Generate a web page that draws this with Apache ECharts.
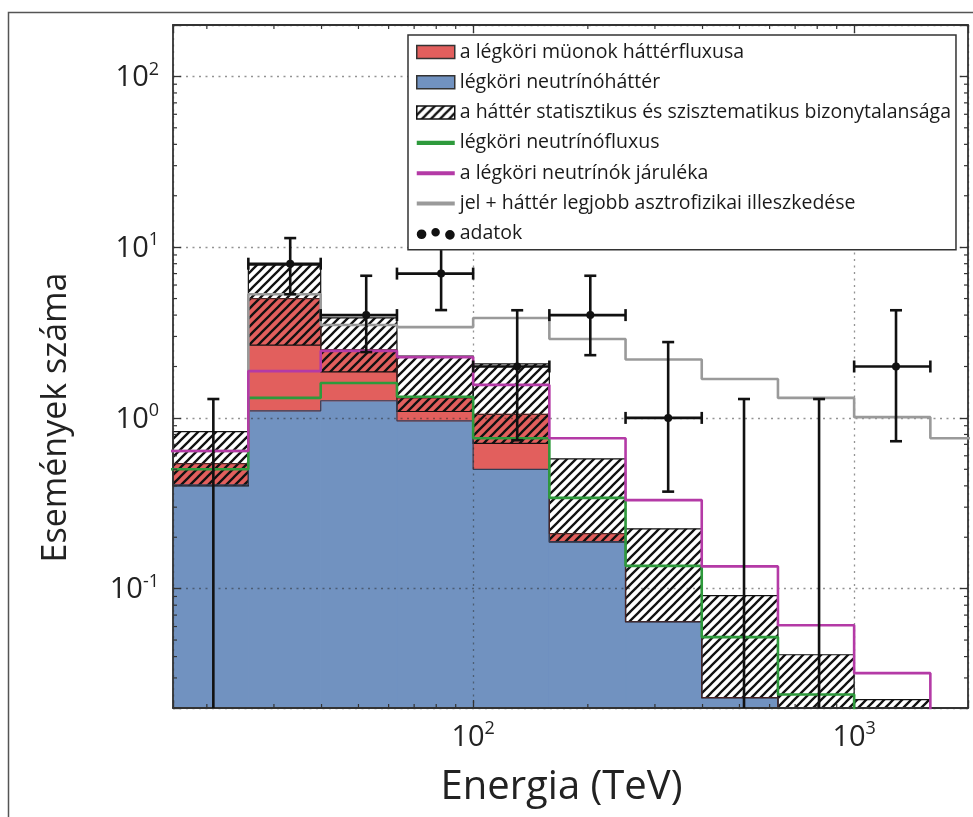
<!DOCTYPE html>
<html>
<head>
    <meta charset="utf-8">
    <title>Események száma - Energia (TeV)</title>
    <script src="https://cdn.jsdelivr.net/npm/echarts@6/dist/echarts.min.js"></script>
    <style>html, body { margin: 0; padding: 0; background: #fff; }</style>
</head>
<body>
    <div id="main" style="width:973px;height:817px;"></div>
    <script type="text/javascript">

        // bin edges (TeV), 11 bins
        var binEdges   = [15.85, 25.7, 39.8, 63.1, 100, 158.5, 251.2, 398.1, 631, 1000, 1585, 2512];
        // histogram values per bin (events)
        var neutrinoBg = [0.405, 1.1, 1.26, 0.96, 0.50, 0.188, 0.064, 0.023, 0.012, 0.008, 0.005];
        var muonTop    = [0.54, 5.0, 2.5, 1.31, 1.05, 0.21, 0.064, 0.023, 0.012, 0.008, 0.005];
        var bandLow    = [0.40, 2.67, 1.86, 1.09, 0.71, 0.188, 0.064, 0.023, 0.01, 0.01, null];
        var bandHigh   = [0.83, 7.85, 3.85, 2.3, 2.07, 0.575, 0.224, 0.091, 0.041, 0.0224, null];
        var nuFlux     = [0.50, 1.31, 1.6, 1.33, 0.76, 0.34, 0.136, 0.052, 0.024, 0.013, 0.008];
        var nuContrib  = [0.64, 1.88, 2.47, 2.27, 1.56, 0.76, 0.33, 0.135, 0.061, 0.032, 0.012];
        var bestFit    = [0.64, 5.3, 3.5, 3.4, 3.85, 2.9, 2.2, 1.69, 1.31, 1.01, 0.76];
        // measured events
        var dataX    = [20.8, 33.1, 52.4, 82.4, 130.5, 203, 325, 514, 809, 1288];
        var dataN    = [0, 8, 4, 7, 2, 4, 1, 0, 0, 2];
        var errLow   = [0, 5.3, 2.43, 4.28, 0.74, 2.33, 0.37, 0, 0, 0.73];
        var errHigh  = [1.29, 11.3, 6.8, 10.4, 4.27, 6.8, 2.78, 1.29, 1.29, 4.27];
        // minor tick positions
        var xMinor = [20, 30, 40, 50, 60, 70, 80, 90, 200, 300, 400, 500, 600, 700, 800, 900];
        var yMinor = [0.03, 0.04, 0.05, 0.06, 0.07, 0.08, 0.09, 0.2, 0.3, 0.4, 0.5, 0.6, 0.7, 0.8, 0.9,
                      2, 3, 4, 5, 6, 7, 8, 9, 20, 30, 40, 50, 60, 70, 80, 90];

        var X_MIN = 16.3, X_MAX = 1990, Y_MIN = 0.02, Y_MAX = 200;
        var RED = '#e25f5d', BLUE = '#7192c0', GREEN = '#2e9a3c', MAGENTA = '#b43aa6', GRAY = '#9a9a9a';
        var FONT = 'Open Sans';

        var names = {
            muon: 'a légköri müonok háttérfluxusa',
            nubg: 'légköri neutrínóháttér',
            band: 'a háttér statisztikus és szisztematikus bizonytalansága',
            flux: 'légköri neutrínófluxus',
            contrib: 'a légköri neutrínók járuléka',
            fit: 'jel + háttér legjobb asztrofizikai illeszkedése',
            data: 'adatok'
        };

        function hatchCanvas() {
            var s = 9, c = document.createElement('canvas');
            c.width = s; c.height = s;
            var g = c.getContext('2d');
            g.strokeStyle = '#111';
            g.lineWidth = 2.3;
            g.beginPath();
            g.moveTo(-1, s + 1); g.lineTo(s + 1, -1);
            g.moveTo(-s / 2 - 1, s / 2 + 1); g.lineTo(s / 2 + 1, -s / 2 - 1);
            g.moveTo(s / 2 - 1, s * 1.5 + 1); g.lineTo(s * 1.5 + 1, s / 2 - 1);
            g.stroke();
            return c;
        }
        var hatch = { image: hatchCanvas(), repeat: 'repeat' };

        function clip(r, cs) {
            var x0 = Math.max(r.x, cs.x), y0 = Math.max(r.y, cs.y);
            var x1 = Math.min(r.x + r.width, cs.x + cs.width), y1 = Math.min(r.y + r.height, cs.y + cs.height);
            if (x1 <= x0 || y1 <= y0) return null;
            return { x: x0, y: y0, width: x1 - x0, height: y1 - y0 };
        }

        function binRects(fill, stroke, width) {
            return function (params, api) {
                var lo = api.value(2), hi = api.value(3);
                if (!(hi > lo)) return;
                var p0 = api.coord([api.value(0), hi]);
                var p1 = api.coord([api.value(1), lo]);
                var r = clip({ x: p0[0], y: p0[1], width: p1[0] - p0[0], height: p1[1] - p0[1] }, params.coordSys);
                if (!r) return;
                return { type: 'rect', shape: r, style: { fill: fill, stroke: stroke, lineWidth: width } };
            };
        }

        function binData(lo, hi) {
            var out = [];
            for (var i = 0; i < hi.length; i++) {
                if (hi[i] == null) continue;
                out.push([binEdges[i], binEdges[i + 1], typeof lo === 'number' ? lo : lo[i], hi[i]]);
            }
            return out;
        }

        function stepData(vals) {
            return binEdges.map(function (e, i) {
                return [e, vals[Math.min(i, vals.length - 1)]];
            });
        }

        function renderPoint(params, api) {
            var cs = params.coordSys;
            var xc = api.value(0), n = api.value(1), lo = api.value(2), hi = api.value(3);
            var st = { stroke: '#111', lineWidth: 2.6 };
            var top = api.coord([xc, hi]);
            var bottom = n > 0 ? api.coord([xc, lo])[1] : cs.y + cs.height;
            var ch = [
                { type: 'line', shape: { x1: top[0], y1: top[1], x2: top[0], y2: bottom }, style: st },
                { type: 'line', shape: { x1: top[0] - 6, y1: top[1], x2: top[0] + 6, y2: top[1] }, style: st }
            ];
            if (n > 0) {
                var c = api.coord([xc, n]);
                var l = api.coord([api.value(4), n]);
                var r = api.coord([api.value(5), n]);
                ch.push({ type: 'line', shape: { x1: top[0] - 6, y1: bottom, x2: top[0] + 6, y2: bottom }, style: st });
                ch.push({ type: 'line', shape: { x1: l[0], y1: c[1], x2: r[0], y2: c[1] }, style: st });
                ch.push({ type: 'line', shape: { x1: l[0], y1: c[1] - 6, x2: l[0], y2: c[1] + 6 }, style: st });
                ch.push({ type: 'line', shape: { x1: r[0], y1: c[1] - 6, x2: r[0], y2: c[1] + 6 }, style: st });
                ch.push({ type: 'circle', shape: { cx: c[0], cy: c[1], r: 4 }, style: { fill: '#111' } });
            }
            return { type: 'group', children: ch };
        }

        function renderMinor(isX) {
            return function (params, api) {
                var cs = params.coordSys, st = { stroke: '#333', lineWidth: 1.2 };
                if (isX) {
                    var x = api.coord([api.value(0), 1])[0];
                    return { type: 'group', children: [
                        { type: 'line', shape: { x1: x, y1: cs.y + cs.height, x2: x, y2: cs.y + cs.height - 4 }, style: st },
                        { type: 'line', shape: { x1: x, y1: cs.y, x2: x, y2: cs.y + 4 }, style: st }
                    ] };
                }
                var y = api.coord([100, api.value(1)])[1];
                return { type: 'group', children: [
                    { type: 'line', shape: { x1: cs.x, y1: y, x2: cs.x + 4, y2: y }, style: st },
                    { type: 'line', shape: { x1: cs.x + cs.width, y1: y, x2: cs.x + cs.width - 4, y2: y }, style: st }
                ] };
            };
        }

        function powLabel(v) {
            var lg = Math.log(v) / Math.LN10, e = Math.round(lg);
            if (Math.abs(lg - e) > 1e-6) return '';
            return '{b|10}{s|' + e + '}';
        }
        var labelRich = {
            b: { fontFamily: FONT, fontSize: 29, lineHeight: 32, color: '#222', verticalAlign: 'bottom' },
            s: { fontFamily: FONT, fontSize: 18, lineHeight: 18, color: '#222', verticalAlign: 'top' }
        };

        function logAxis(min, max, extra) {
            var ax = {
                type: 'log', logBase: 10, min: min, max: max, z: 3,
                axisLine: { show: true, onZero: false, lineStyle: { color: '#333', width: 1.8 } },
                axisTick: { show: true, inside: true, length: 8, lineStyle: { color: '#333', width: 1.3 } },
                splitLine: { show: false },
                axisLabel: { show: false }
            };
            for (var k in extra) ax[k] = extra[k];
            return ax;
        }
        var gridLine = { show: true, lineStyle: { color: 'rgba(40,40,40,0.5)', width: 1.3, type: [2, 4.5] } };

        // thin dark outline along the top of a filled histogram
        function outline(vals, color) {
            return {
                type: 'line', step: 'end', symbol: 'none', z: 2, silent: true,
                lineStyle: { color: color, width: 1.2 },
                data: stepData(vals)
            };
        }

        var myChart = echarts.init(document.getElementById('main'));
        var option = {
            animation: false,
            backgroundColor: '#fff',
            graphic: [{
                type: 'rect', left: 6, top: 10, silent: true,
                shape: { width: 990, height: 830 },
                style: { fill: 'none', stroke: '#555', lineWidth: 1.5 }
            }],
            grid: { left: 173, top: 25, right: 5, bottom: 109 },
            legend: {
                orient: 'vertical', left: 408, top: 35, z: 10,
                padding: [7, 5, 6, 8],
                itemWidth: 38, itemHeight: 13, itemGap: 10.3,
                backgroundColor: '#fff', borderColor: '#333', borderWidth: 1.5, borderRadius: 0,
                selectedMode: false,
                textStyle: { fontFamily: FONT, fontSize: 19.5, lineHeight: 19, color: '#1a1a1a' },
                data: [
                    { name: names.muon, icon: 'rect', itemStyle: { color: RED, borderColor: '#333', borderWidth: 1.5 } },
                    { name: names.nubg, icon: 'rect', itemStyle: { color: BLUE, borderColor: '#333', borderWidth: 1.5 } },
                    { name: names.band, icon: 'rect', itemStyle: { color: hatch, borderColor: '#111', borderWidth: 1.5 } },
                    { name: names.flux, icon: 'path://M0,0H28V3H0Z', itemStyle: { color: GREEN } },
                    { name: names.contrib, icon: 'path://M0,0H28V3H0Z', itemStyle: { color: MAGENTA } },
                    { name: names.fit, icon: 'path://M0,0H28V3H0Z', itemStyle: { color: GRAY } },
                    { name: names.data, icon: 'path://M0,5a3.3,3.3 0 1,0 6.6,0a3.3,3.3 0 1,0 -6.6,0Z M10,3.6a2.9,2.9 0 1,0 5.8,0a2.9,2.9 0 1,0 -5.8,0Z M19.4,5.4a3.3,3.3 0 1,0 6.6,0a3.3,3.3 0 1,0 -6.6,0Z', itemStyle: { color: '#111' } }
                ]
            },
            xAxis: [
                logAxis(X_MIN, X_MAX, {
                    position: 'bottom',
                    splitLine: gridLine,
                    axisLabel: { show: true, margin: 12, formatter: powLabel, rich: labelRich },
                    name: 'Energia (TeV)', nameLocation: 'middle', nameGap: 60,
                    nameTextStyle: { fontFamily: FONT, fontSize: 40, color: '#222', padding: [0, 18, 0, 0] }
                }),
                logAxis(X_MIN, X_MAX, { position: 'top' })
            ],
            yAxis: [
                logAxis(Y_MIN, Y_MAX, {
                    position: 'left',
                    splitLine: gridLine,
                    axisLabel: { show: true, margin: 14, formatter: powLabel, rich: labelRich },
                    name: 'Események száma', nameLocation: 'middle', nameGap: 100,
                    nameTextStyle: { fontFamily: FONT, fontSize: 34, color: '#222', padding: [0, 102, 0, 0] }
                }),
                logAxis(Y_MIN, Y_MAX, { position: 'right' })
            ],
            series: [
                {
                    name: names.nubg, type: 'custom', z: 1, silent: true,
                    itemStyle: { color: BLUE },
                    encode: { x: [0, 1], y: [2, 3] },
                    data: binData(Y_MIN, neutrinoBg),
                    renderItem: binRects(BLUE, BLUE, 1)
                },
                {
                    name: names.muon, type: 'custom', z: 1, silent: true,
                    itemStyle: { color: RED },
                    encode: { x: [0, 1], y: [2, 3] },
                    data: binData(neutrinoBg, muonTop),
                    renderItem: binRects(RED, RED, 1)
                },
                outline(neutrinoBg, '#2f3f58'),
                outline(muonTop, '#4a2424'),
                {
                    name: names.band, type: 'custom', z: 2, silent: true,
                    itemStyle: { color: '#111' },
                    encode: { x: [0, 1], y: [2, 3] },
                    data: binData(bandLow, bandHigh),
                    renderItem: binRects(hatch, '#111', 1.2)
                },
                {
                    name: names.fit, type: 'line', step: 'end', symbol: 'none', z: 4, silent: true,
                    itemStyle: { color: GRAY }, lineStyle: { color: GRAY, width: 2.6 },
                    data: stepData(bestFit)
                },
                {
                    name: names.flux, type: 'line', step: 'end', symbol: 'none', z: 4, silent: true,
                    itemStyle: { color: GREEN }, lineStyle: { color: GREEN, width: 2.6 },
                    data: stepData(nuFlux)
                },
                {
                    name: names.contrib, type: 'line', step: 'end', symbol: 'none', z: 4, silent: true,
                    itemStyle: { color: MAGENTA }, lineStyle: { color: MAGENTA, width: 2.6 },
                    data: stepData(nuContrib)
                },
                {
                    name: names.data, type: 'custom', z: 5, silent: true,
                    itemStyle: { color: '#111' },
                    encode: { x: 0, y: 3 },
                    data: dataN.map(function (n, i) {
                        return [dataX[i], n, errLow[i], errHigh[i], binEdges[i], binEdges[i + 1]];
                    }),
                    renderItem: renderPoint
                },
                {
                    name: 'xMinor', type: 'custom', z: 6, silent: true,
                    data: xMinor.map(function (v) { return [v, 1]; }),
                    renderItem: renderMinor(true)
                },
                {
                    name: 'yMinor', type: 'custom', z: 6, silent: true,
                    data: yMinor.map(function (v) { return [100, v]; }),
                    renderItem: renderMinor(false)
                }
            ]
        };
        myChart.setOption(option);

    </script>
</body>
</html>
